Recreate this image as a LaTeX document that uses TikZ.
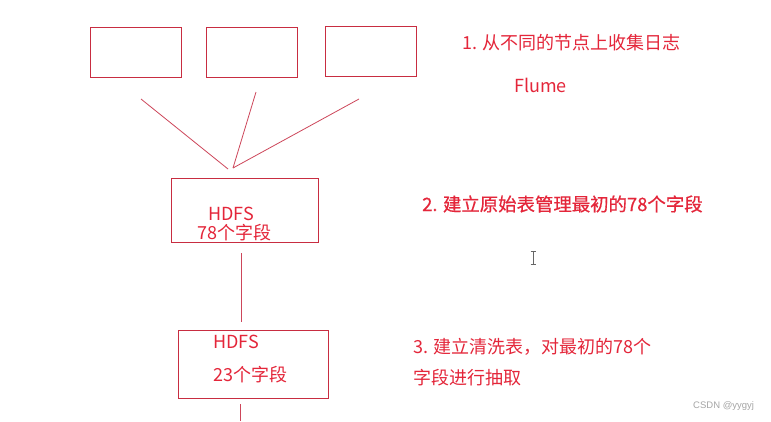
\documentclass[tikz,border=0pt]{standalone}
\usepackage{fontspec}
\setmainfont{Noto Sans CJK SC}
\newfontfamily\boldishfont[FakeBold=0.6]{Noto Sans CJK SC}
\newfontfamily\wmfont{Liberation Sans}
\definecolor{txtred}{RGB}{228,38,58}
\definecolor{boxred}{RGB}{200,45,65}
\definecolor{linered}{RGB}{205,70,90}
\begin{document}
\begin{tikzpicture}[x=1pt,y=-1pt,
  srcbox/.style={draw=boxred,line width=0.9pt,inner sep=0pt,anchor=north west},
  lbl/.style={text=txtred,inner sep=0pt,anchor=west,font=\fontsize{18}{22}\selectfont},
  conn/.style={draw=linered,line width=0.8pt}]
\useasboundingbox[fill=white] (0,0) rectangle (771,421);
% top source boxes
\node[srcbox,minimum width=91pt,minimum height=50pt] (s1) at (90,27) {};
\node[srcbox,minimum width=91pt,minimum height=50pt] (s2) at (206,27) {};
\node[srcbox,minimum width=91pt,minimum height=50pt] (s3) at (325,26) {};
% HDFS boxes
\node[srcbox,minimum width=147pt,minimum height=64pt] (h1) at (171,177.5) {};
\node[srcbox,minimum width=150pt,minimum height=68pt] (h2) at (178,330) {};
% texts in boxes
\node[lbl] (h1a) at (208,214) {HDFS};
\node[lbl] (h1b) at (197,233) {78个字段};
\node[lbl] (h2a) at (213,341.5) {HDFS};
\node[lbl] (h2b) at (213,375) {23个字段};
% fan connectors
\coordinate (f1) at (141,99);
\coordinate (f2) at (256,92);
\coordinate (f3) at (359,99);
\coordinate (m1) at (228,169);
\coordinate (m2) at (233,168);
\draw[conn] (f1) -- (m1);
\draw[conn] (f2) -- (m2);
\draw[conn] (f3) -- (m2);
% vertical connectors
\coordinate (v1) at (241.5,253);
\coordinate (v2) at (241.5,322);
\coordinate (v3) at (240,404);
\coordinate (v4) at (240,421);
\draw[conn] (v1) -- (v2);
\draw[conn] (v3) -- (v4);
% right-hand notes
\node[lbl] (t1) at (462,43) {1. 从不同的节点上收集日志};
\node[lbl] (t1b) at (514,85) {Flume};
\node[lbl,font=\boldishfont\fontsize{18.4}{22}\selectfont] (t2) at (422,204) {2. 建立原始表管理最初的78个字段};
\node[lbl] (t3) at (413,347) {3. 建立清洗表，对最初的78个};
\node[lbl] (t3b) at (413,378) {字段进行抽取};
% text cursor
\draw[gray!80!black,line width=0.8pt] (533,251) -- (533,264);
\draw[gray!80!black,line width=0.8pt] (530.5,251) -- (535.5,251) (530.5,264) -- (535.5,264);
% watermark
\node[anchor=west,inner sep=0pt,text=gray!70,font=\wmfont\fontsize{9.5}{11}\selectfont] (wm) at (693,406) {CSDN @yygyj};
\end{tikzpicture}
\end{document}
